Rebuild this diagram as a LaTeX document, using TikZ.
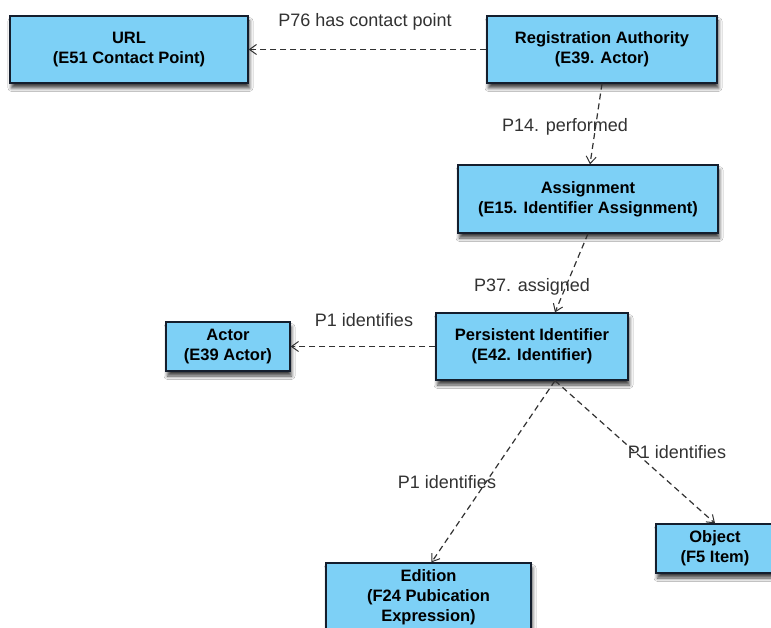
\documentclass[tikz,border=0pt]{standalone}
\usepackage{fontspec}
\setmainfont{Liberation Sans}
\usetikzlibrary{arrows.meta,shadows.blur}
\definecolor{boxfill}{RGB}{125,208,246}
\definecolor{boxline}{RGB}{20,30,45}
\definecolor{linkgray}{RGB}{50,50,50}
\tikzset{
  entity/.style={draw=boxline, line width=1.3pt, fill=boxfill, align=center,
    inner sep=0pt, font=\fontsize{16.5}{20}\selectfont\bfseries,
    blur shadow={shadow xshift=1.5pt, shadow yshift=-5pt, shadow blur radius=3.5pt,
      shadow blur steps=6, shadow opacity=75}},
  link/.style={draw=linkgray, line width=1.2pt, dash pattern=on 6pt off 4pt,
    -{Straight Barb[length=7pt,width=10pt,line width=1pt]}},
  linklabel/.style={text=linkgray, font=\fontsize{18}{20}\selectfont, inner sep=1pt}
}
\begin{document}
\begin{tikzpicture}[x=1pt,y=-1pt]
  \useasboundingbox (0,0) rectangle (771,628);
  \clip (0,0) rectangle (771,628);
  \fill[white] (0,0) rectangle (771,628);

  % entities
  \node[entity, minimum width=238, minimum height=67] (url) at (129,49.5)
    {URL\\(E51 Contact Point)};
  \node[entity, minimum width=230, minimum height=67] (ra) at (602,49.5)
    {Registration Authority\\(E39. Actor)};
  \node[entity, minimum width=260, minimum height=68] (asg) at (588,199)
    {Assignment\\(E15. Identifier Assignment)};
  \node[entity, minimum width=192, minimum height=67] (pid) at (532,346.5)
    {Persistent Identifier\\(E42. Identifier)};
  \node[entity, minimum width=124, minimum height=49] (actor) at (228,346.5)
    {Actor\\(E39 Actor)};
  \node[entity, minimum width=118, minimum height=49] (obj) at (715,548.5)
    {Object\\(F5 Item)};
  \node[entity, minimum width=205, minimum height=68] (ed) at (428.5,597)
    {Edition\\(F24 Pubication\\Expression)};

  % relations
  \draw[link] (ra.west) -- (url.east);
  \draw[link] (ra.south) -- ([xshift=2]asg.north);
  \draw[link] (asg.south) -- ([xshift=23]pid.north);
  \draw[link] (pid.west) -- (actor.east);
  \draw[link] ([xshift=23]pid.south) -- ([xshift=3]ed.north);
  \draw[link] ([xshift=23]pid.south) -- (obj.north);

  % relation labels
  \node[linklabel] (l76) at (365,22) {P76 has contact point};
  \node[linklabel] (l14) at (565,127) {P14. performed};
  \node[linklabel] (l37) at (532,287) {P37. assigned};
  \node[linklabel] (l1a) at (364,320) {P1 identifies};
  \node[linklabel] (l1b) at (447,482) {P1 identifies};
  \node[linklabel] (l1c) at (677,452) {P1 identifies};
\end{tikzpicture}
\end{document}
